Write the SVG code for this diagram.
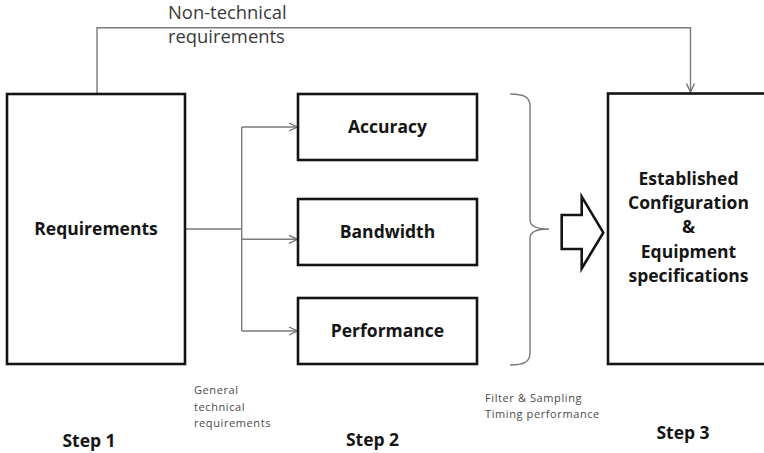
<svg xmlns="http://www.w3.org/2000/svg" width="764" height="453" viewBox="0 0 764 453">
  <defs>
    <marker id="chev" viewBox="0 0 10 10" refX="9.5" refY="5" markerWidth="10" markerHeight="10" markerUnits="userSpaceOnUse" orient="auto">
      <path d="M1,1 L9.5,5 L1,9" fill="none" stroke="#6e6e6e" stroke-width="1.3"/>
    </marker>
  </defs>
  <style>
    .box { fill: #fff; stroke: #141414; stroke-width: 2.6; }
    .wire { fill: none; stroke: #7a7a7a; stroke-width: 1.4; }
    .lbl { font-family: "Open Sans", "Liberation Sans", sans-serif; font-weight: bold; font-size: 17.5px; fill: #151515; text-anchor: middle; }
    .note { font-family: "Open Sans", "Liberation Sans", sans-serif; font-size: 11px; letter-spacing: 0.6px; fill: #4a4a4a; }
    .big { font-family: "Open Sans", "Liberation Sans", sans-serif; font-size: 18.4px; fill: #3a3a3a; }
  </style>
  <rect width="764" height="453" fill="#fff"/>

  <!-- connectors -->
  <g id="connectors">
    <path class="wire" d="M97,94 V27.7 H690.5 V92" marker-end="url(#chev)"/>
    <path class="wire" d="M185,229 H241.7"/>
    <path class="wire" d="M241.7,127 V331"/>
    <path class="wire" d="M241.7,127 H297.5" marker-end="url(#chev)"/>
    <path class="wire" d="M241.7,239.3 H297.5" marker-end="url(#chev)"/>
    <path class="wire" d="M241.7,331 H297.5" marker-end="url(#chev)"/>
    <!-- brace grouping the three technical requirements -->
    <path class="wire" d="M510,94 C524,94 530,97 530,106 V220 C530,226 535,229 549,229 C535,229 530,232 530,238 V353 C530,362 524,365 510,365"/>
    <!-- block arrow into step 3 -->
    <polygon points="561.7,215 581.7,215 581.7,196.7 603.3,232.7 581.7,268.5 581.7,249 561.7,249" fill="#fff" stroke="#141414" stroke-width="2.6" stroke-linejoin="miter"/>
  </g>

  <g id="requirements">
    <rect class="box" x="7" y="94" width="178" height="270"/>
    <text class="lbl" x="96" y="235">Requirements</text>
  </g>

  <g id="accuracy">
    <rect class="box" x="298" y="94" width="179" height="66"/>
    <text class="lbl" x="387.5" y="133">Accuracy</text>
  </g>

  <g id="bandwidth">
    <rect class="box" x="298" y="199" width="179" height="66"/>
    <text class="lbl" x="387.5" y="238">Bandwidth</text>
  </g>

  <g id="performance">
    <rect class="box" x="298" y="298" width="179" height="66"/>
    <text class="lbl" x="387.5" y="337">Performance</text>
  </g>

  <g id="configuration">
    <rect class="box" x="608" y="93.5" width="161" height="270.5"/>
    <text class="lbl" x="688.5" y="185">Established</text>
    <text class="lbl" x="688.5" y="209">Configuration</text>
    <text class="lbl" x="688.5" y="233">&amp;</text>
    <text class="lbl" x="688.5" y="258">Equipment</text>
    <text class="lbl" x="688.5" y="282">specifications</text>
  </g>

  <g id="labels">
    <text class="big" x="168" y="19">Non-technical</text>
    <text class="big" x="168" y="43">requirements</text>
    <text class="note" x="194" y="394">General</text>
    <text class="note" x="194" y="411">technical</text>
    <text class="note" x="194" y="427">requirements</text>
    <text class="note" x="485" y="402">Filter &amp; Sampling</text>
    <text class="note" x="485" y="418">Timing performance</text>
    <text class="lbl" x="89" y="447">Step 1</text>
    <text class="lbl" x="372.5" y="446">Step 2</text>
    <text class="lbl" x="683" y="439">Step 3</text>
  </g>
</svg>
